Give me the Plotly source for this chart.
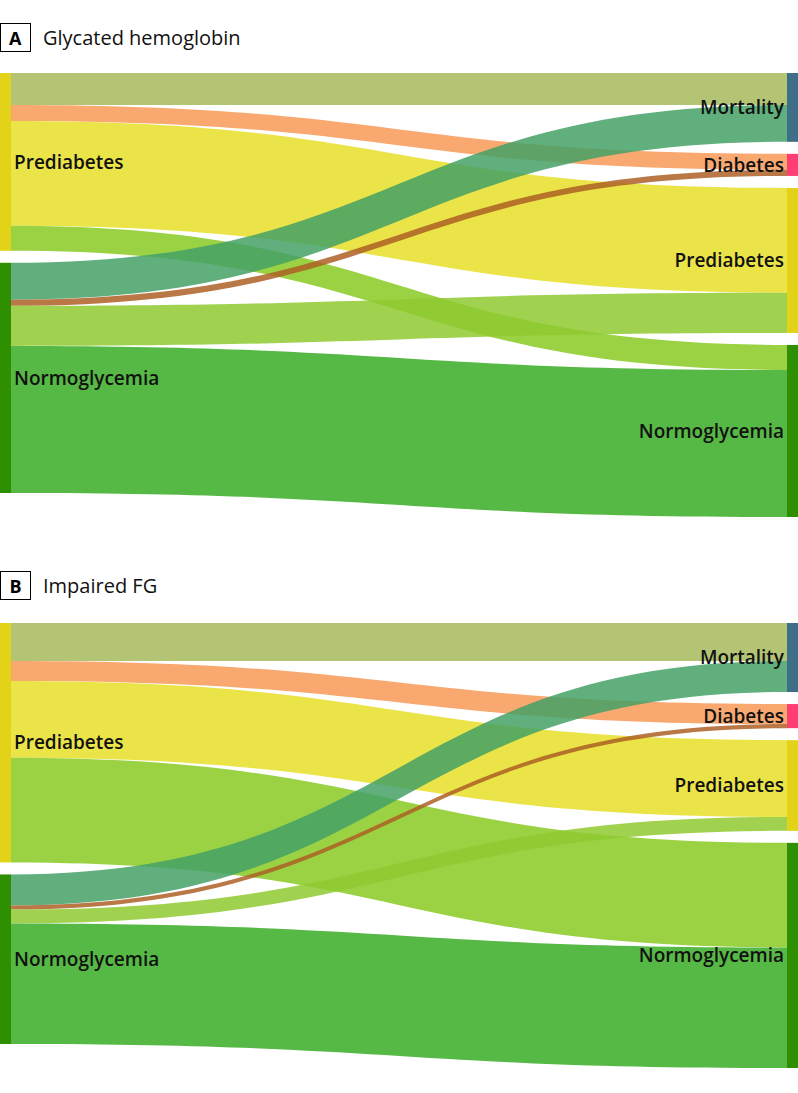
import plotly.graph_objects as go

# Node labels (left: baseline state, right: follow-up state)
node_labels = ["Prediabetes", "Normoglycemia", "Mortality", "Diabetes", "Prediabetes", "Normoglycemia"]
node_colors = ["#E3D318", "#2E8F00", "#3E6E88", "#FF3F73", "#E3D318", "#2E8F00"]
node_column = [0, 0, 1, 1, 1, 1]

link_source = [0, 0, 0, 0, 1, 1, 1, 1]
link_target = [2, 3, 4, 5, 2, 3, 4, 5]
link_colors = [
    "rgba(166,187,93,0.85)",   # Prediabetes -> Mortality
    "rgba(248,153,87,0.85)",   # Prediabetes -> Diabetes
    "rgba(233,225,52,0.90)",   # Prediabetes -> Prediabetes
    "rgba(137,202,35,0.85)",   # Prediabetes -> Normoglycemia
    "rgba(68,161,102,0.85)",   # Normoglycemia -> Mortality
    "rgba(173,96,37,0.85)",    # Normoglycemia -> Diabetes
    "rgba(143,202,49,0.85)",   # Normoglycemia -> Prediabetes
    "rgba(69,177,49,0.90)",    # Normoglycemia -> Normoglycemia
]

# Panel A: glycated hemoglobin (percent of cohort, estimated)
values_a = [7.8, 3.9, 25.6, 6.1, 9.0, 1.5, 9.8, 35.9]
# Panel B: impaired fasting glucose (percent of cohort, estimated)
values_b = [9.3, 4.9, 18.8, 25.6, 7.6, 1.0, 3.4, 29.5]

panel_titles = ["Glycated hemoglobin", "Impaired FG"]
panel_letters = ["A", "B"]

W, H = 798, 1093
PAD = 12
THICK = 11
label_font = "Open Sans, Liberation Sans, sans-serif"
title_font = "Open Sans, Liberation Sans, sans-serif"


def node_positions(values, height_px):
    """Stack nodes top-down per column (same scaling rule as d3-sankey)."""
    n = len(node_labels)
    totals = [0.0] * n
    for s, t, v in zip(link_source, link_target, values):
        totals[s] += v
        totals[t] += v
    cols = {}
    for i, c in enumerate(node_column):
        cols.setdefault(c, []).append(i)
    ky = min((height_px - (len(ids) - 1) * PAD) / sum(totals[i] for i in ids) for ids in cols.values())
    xs, ys = [0.0] * n, [0.0] * n
    for c, ids in cols.items():
        y = 0.0
        for i in ids:
            h = totals[i] * ky
            ys[i] = (y + h / 2) / height_px
            xs[i] = (THICK / 2) / W if c == 0 else 1 - (THICK / 2) / W
            y += h + PAD
    return xs, ys


def make_sankey(values, ydomain):
    height_px = (ydomain[1] - ydomain[0]) * H
    xs, ys = node_positions(values, height_px)
    return go.Sankey(
        domain=dict(x=[0, 1], y=ydomain),
        arrangement="fixed",
        node=dict(
            label=node_labels,
            color=node_colors,
            pad=PAD,
            thickness=THICK,
            line=dict(width=0),
            x=xs,
            y=ys,
        ),
        link=dict(
            source=link_source,
            target=link_target,
            value=values,
            color=link_colors,
        ),
        textfont=dict(family=label_font, size=19, color="#111111", weight=600, shadow="none"),
    )


fig = go.Figure()
fig.add_trace(make_sankey(values_a, [1 - 517 / H, 1 - 73 / H]))
fig.add_trace(make_sankey(values_b, [1 - 1068 / H, 1 - 623 / H]))

title_y = [1 - 37.5 / H, 1 - 585 / H]
for letter, title, ty in zip(panel_letters, panel_titles, title_y):
    fig.add_annotation(
        x=0, y=ty, xref="paper", yref="paper", xanchor="left", yanchor="middle",
        text="<b>" + letter + "</b>", showarrow=False,
        font=dict(family=title_font, size=18, color="#000000"),
        width=29, height=27, align="center", valign="middle",
        bordercolor="#000000", borderwidth=1, borderpad=0,
        bgcolor="#ffffff",
    )
    fig.add_annotation(
        x=41 / W, y=ty, xref="paper", yref="paper", xanchor="left", yanchor="middle",
        text=title, showarrow=False,
        font=dict(family=title_font, size=20, color="#111111"),
    )

fig.update_layout(
    width=W, height=H,
    margin=dict(l=0, r=0, t=0, b=0),
    paper_bgcolor="#ffffff",
    plot_bgcolor="#ffffff",
    font=dict(family=label_font),
    showlegend=False,
)

fig.write_html(
    "out.html",
    config={"displayModeBar": False},
    post_script="document.body.style.margin='0';",
)
